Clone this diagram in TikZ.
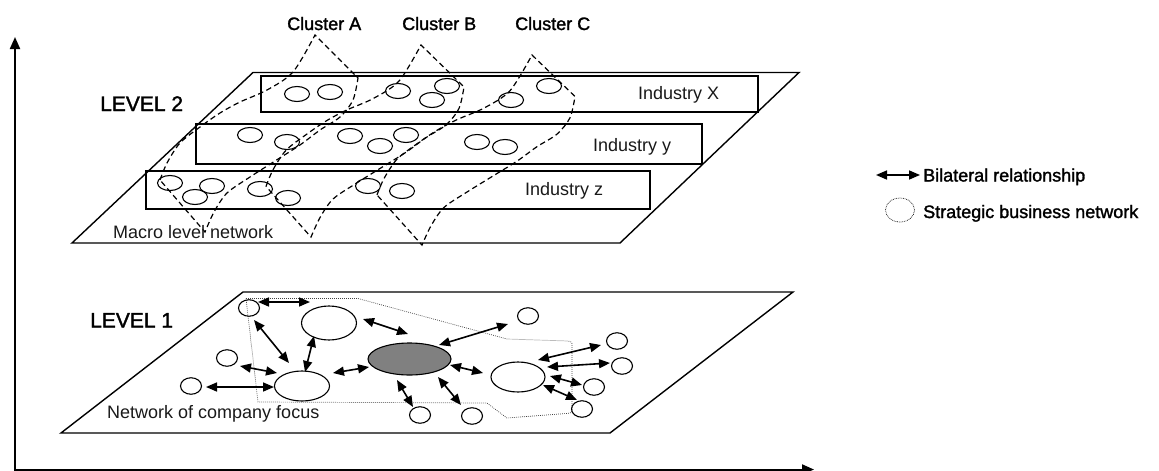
\documentclass[tikz,border=0pt]{standalone}
\usepackage{fontspec}
\setmainfont{Liberation Sans}
\newfontfamily\heavyfont{Liberation Sans}[FakeBold=1.6]
\usetikzlibrary{arrows.meta,shapes.geometric}

\tikzset{
  plane/.style={draw, line width=1.4pt, line join=miter},
  indbox/.style={draw, line width=1.3pt},
  firm/.style={draw, ellipse, line width=1.1pt, inner sep=0pt, outer sep=0pt,
               minimum width=25pt, minimum height=15pt},
  small/.style={draw, ellipse, line width=1.1pt, inner sep=0pt, outer sep=0pt,
                minimum width=21pt, minimum height=16.5pt},
  big/.style={draw, ellipse, line width=1.1pt, inner sep=0pt, outer sep=0pt,
              minimum width=55pt, minimum height=30pt},
  lbl/.style={inner sep=0pt, anchor=base west, text=black!90, font=\fontsize{18}{20}\selectfont},
  heavylbl/.style={inner sep=0pt, anchor=base west, font=\heavyfont\fontsize{18}{20}\selectfont},
  levellbl/.style={inner sep=0pt, anchor=base west, font=\heavyfont\fontsize{21}{24}\selectfont},
  bi/.style={line width=1.6pt, {Triangle[length=11pt,width=9pt]}-{Triangle[length=11pt,width=9pt]}},
  axis/.style={line width=2pt, line join=miter, {Triangle[length=12pt,width=10pt]}-{Triangle[length=12pt,width=10pt]}},
  clusterline/.style={draw, line width=1.2pt, dash pattern=on 5.5pt off 3.5pt},
  boundary/.style={draw=black!75, line width=0.7pt, dash pattern=on 0.8pt off 1.2pt},
  cluster/.pic={
    \draw[clusterline]
      plot[smooth, tension=0.5] coordinates {(-155,145) (-148,128) (-135,108) (-115,92)
            (-95,78) (-75,67) (-48,55) (-22,37) (0,0)}
      -- (43,43)
      -- plot[smooth, tension=0.5] coordinates {(43,43) (38,65) (25,82) (5,95) (-15,110)
            (-40,126) (-65,142) (-88,158) (-101,177) (-110,197)}
      -- cycle;
  }
}

\begin{document}
\begin{tikzpicture}[x=1pt, y=-1pt]
\useasboundingbox (0,0) rectangle (1159,471);

% axes
\coordinate (ytop) at (15,37);
\coordinate (origin) at (15,469.5);
\coordinate (xend) at (814,469.5);
\draw[axis] (ytop) -- (origin) -- (xend);

% ---------------- level 2: macro level network ----------------
\draw[plane] (253,72.5) -- (799,72.5) -- (620,243) -- (72,243) -- cycle;
\draw[indbox] (261,76) rectangle (758,112);
\draw[indbox] (196,124) rectangle (702,164);
\draw[indbox] (146,171) rectangle (650,209);

\foreach \n/\p in {x1/{(297,94)}, x2/{(330,92)}, x3/{(398,91)}, x4/{(447,86)},
                   x5/{(432,100)}, x6/{(511,100)}, x7/{(549,86)},
                   y1/{(250,135)}, y2/{(287,142)}, y3/{(350,136)}, y4/{(380,146)},
                   y5/{(406,135)}, y6/{(477,142)}, y7/{(505,147)},
                   z1/{(170,183)}, z2/{(212,186)}, z3/{(195,197)}, z4/{(260,189)},
                   z5/{(288,198)}, z6/{(368,186)}, z7/{(402,191)}}
  \node[firm] (\n) at \p {};

% clusters cutting across the industries
\pic at (315,35) {cluster};
\pic[yscale=0.975] at (421,45) {cluster};
\pic[yscale=0.965] at (532,55) {cluster};

\node[heavylbl] (clA) at (287,30) {Cluster A};
\node[heavylbl] (clB) at (402,30) {Cluster B};
\node[heavylbl] (clC) at (515,30) {Cluster C};
\node[levellbl] (lv2) at (100,111) {LEVEL 2};
\node[lbl] (indX) at (638,99) {Industry X};
\node[lbl] (indY) at (593,151) {Industry y};
\node[lbl] (indZ) at (525,195) {Industry z};
\node[lbl] (macro) at (113,238) {Macro level network};

% ---------------- level 1: network of company focus ----------------
\draw[plane] (243,292) -- (793,292) -- (610,433) -- (61,433) -- cycle;
\draw[boundary] (246,298.5) -- (358,298.5) -- (507,339) -- (568,341)
  .. controls (572,342) .. (572,346) -- (572,408) .. controls (572,413) .. (566,413.5)
  -- (507,418) -- (487,403) -- (258,402) -- cycle;
\node[levellbl] (lv1) at (90,327.5) {LEVEL 1};
\node[lbl] (focus) at (107,418) {Network of company focus};

\node[small] (s1) at (249,308) {};
\node[small] (s2) at (227,358) {};
\node[small] (s3) at (191,386) {};
\node[big, minimum height=34pt] (e1) at (329,323) {};
\node[big] (e2) at (302,386) {};
\node[big, fill=black!50, minimum width=83pt, minimum height=32pt] (g) at (409.5,359) {};
\node[big, minimum width=54pt] (e3) at (518,377) {};
\node[small] (t1) at (528,316) {};
\node[small] (b1) at (420,415) {};
\node[small] (b2) at (472,416) {};
\node[small] (r1) at (617,341) {};
\node[small] (r2) at (622,366) {};
\node[small] (r3) at (594,387) {};
\node[small] (r4) at (582,409) {};

\draw[bi] ([shift={(9,-6)}]s1.center) -- ([shift={(-19,-21)}]e1.center);
\draw[bi] ([shift={(5,12)}]s1.center) -- ([shift={(-13,-23)}]e2.center);
\draw[bi] ([shift={(-15,13)}]e1.center) -- ([shift={(3,-14)}]e2.center);
\draw[bi] ([shift={(13,8)}]s2.center) -- ([shift={(-25,-13)}]e2.center);
\draw[bi] ([shift={(15,1)}]s3.center) -- ([shift={(-28,1)}]e2.center);
\draw[bi] ([shift={(31,-13)}]e2.center) -- ([shift={(-40.5,8)}]g.center);
\draw[bi] ([shift={(34,-4)}]e1.center) -- ([shift={(-1.5,-25)}]g.center);
\draw[bi] ([shift={(-12.5,21)}]g.center) -- ([shift={(-7,-8)}]b1.center);
\draw[bi] ([shift={(29.5,-14)}]g.center) -- ([shift={(-20,8)}]t1.center);
\draw[bi] ([shift={(40.5,6)}]g.center) -- ([shift={(-35,-4)}]e3.center);
\draw[bi] ([shift={(28.5,18)}]g.center) -- ([shift={(-11,-11)}]b2.center);
\draw[bi] ([shift={(20,-17)}]e3.center) -- ([shift={(-16,4)}]r1.center);
\draw[bi] ([shift={(29,-10)}]e3.center) -- ([shift={(-12,-3)}]r2.center);
\draw[bi] ([shift={(32,-1)}]e3.center) -- ([shift={(-12,-2)}]r3.center);
\draw[bi] ([shift={(25,8)}]e3.center) -- ([shift={(-5,-9)}]r4.center);

% ---------------- legend ----------------
\coordinate (lgA) at (876,175);
\coordinate (lgB) at (920,175);
\draw[bi] (lgA) -- (lgB);
\node[heavylbl] (lgBil) at (923,181.5) {Bilateral relationship};
\node[draw, ellipse, line width=0.7pt, dash pattern=on 0.7pt off 1pt,
      minimum width=29pt, minimum height=24pt, inner sep=0pt] (lgC) at (900,210) {};
\node[heavylbl] (lgStr) at (923,218) {Strategic business network};
\end{tikzpicture}
\end{document}
